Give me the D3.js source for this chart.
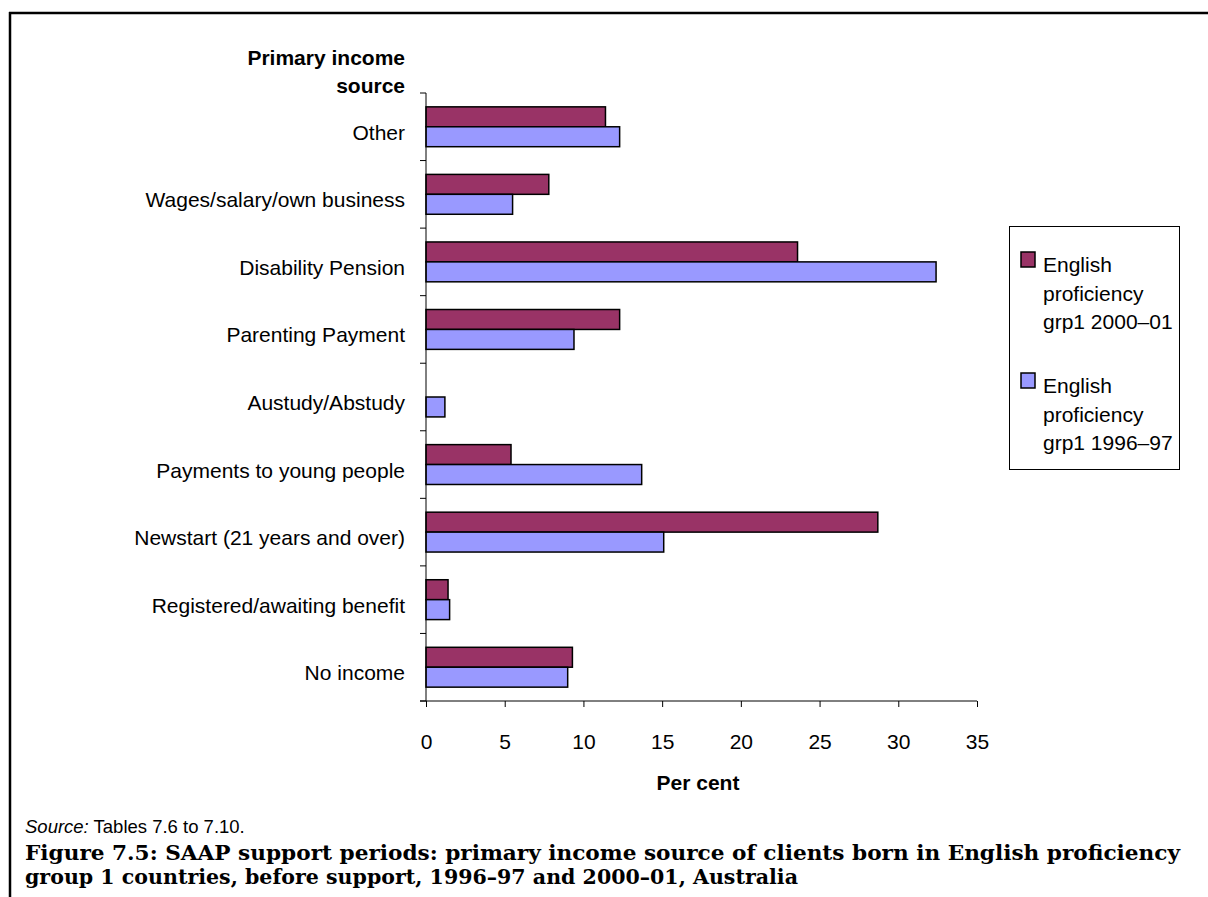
<!DOCTYPE html>
<html>
<head>
<meta charset="utf-8">
<script src="https://cdn.jsdelivr.net/npm/d3@7"></script>
<style>
  html, body { margin: 0; padding: 0; background: #fff; }
  svg { display: block; }
  text { font-family: "Liberation Sans", Arial, sans-serif; fill: #000; }
</style>
</head>
<body>
<svg id="chart" width="1208" height="897"></svg>
<script>
const categories = [
  "Other",
  "Wages/salary/own business",
  "Disability Pension",
  "Parenting Payment",
  "Austudy/Abstudy",
  "Payments to young people",
  "Newstart (21 years and over)",
  "Registered/awaiting benefit",
  "No income"
];
const seriesNames = ["English proficiency grp1 2000\u201301", "English proficiency grp1 1996\u201397"];
const values2000 = [11.4, 7.8, 23.6, 12.3, 0, 5.4, 28.7, 1.4, 9.3];
const values1996 = [12.3, 5.5, 32.4, 9.4, 1.2, 13.7, 15.1, 1.5, 9.0];
const xTicks = [0, 5, 10, 15, 20, 25, 30, 35];
const legendLines = [["English", "proficiency", "grp1 2000\u201301"], ["English", "proficiency", "grp1 1996\u201397"]];
const colors = ["#993366", "#9999FF"];

const svg = d3.select("#chart");

// frame
svg.append("line").attr("x1", 9).attr("x2", 1208).attr("y1", 13).attr("y2", 13)
  .attr("stroke", "#000").attr("stroke-width", 2.5);
svg.append("line").attr("x1", 10).attr("x2", 10).attr("y1", 12).attr("y2", 897)
  .attr("stroke", "#000").attr("stroke-width", 2.5);

const x = d3.scaleLinear().domain([0, 35]).range([426, 977]);
const y = d3.scaleBand().domain(categories).range([93, 701]).paddingInner(0.41).paddingOuter(0.205);
const ySub = d3.scaleBand().domain([0, 1]).range([0, y.bandwidth()]);

const data = categories.map((c, i) => ({ cat: c, vals: [values2000[i], values1996[i]] }));

// bars
const g = svg.append("g");
data.forEach(d => {
  d.vals.forEach((v, s) => {
    if (v <= 0) return;
    g.append("rect")
      .attr("x", x(0))
      .attr("y", y(d.cat) + ySub(s))
      .attr("width", x(v) - x(0))
      .attr("height", ySub.bandwidth())
      .attr("fill", colors[s])
      .attr("stroke", "#000")
      .attr("stroke-width", 1.5);
  });
});

// x axis
const xAxis = d3.axisBottom(x).tickValues(xTicks).tickSize(6).tickSizeOuter(0).tickFormat(d3.format("d"));
const gx = svg.append("g").attr("transform", "translate(0,701)").call(xAxis);
gx.select(".domain").remove();
gx.selectAll(".tick line").attr("stroke", "#000");
gx.selectAll(".tick text").attr("font-size", 21).attr("y", 41).attr("dy", "0.35em")
  .style("font-family", "Liberation Sans, Arial, sans-serif").attr("fill", "#000");
svg.append("line").attr("x1", 420).attr("x2", x(35)).attr("y1", 701).attr("y2", 701)
  .attr("stroke", "#000").attr("stroke-width", 1);

// y axis line + boundary ticks
svg.append("line").attr("x1", x(0)).attr("x2", x(0)).attr("y1", 93).attr("y2", 701)
  .attr("stroke", "#000").attr("stroke-width", 1);
const step = y.step();
const bounds = d3.range(categories.length + 1).map(i => y.range()[0] + i * step);
svg.append("g").selectAll("line").data(bounds).join("line")
  .attr("x1", x(0) - 6).attr("x2", x(0)).attr("y1", d => d).attr("y2", d => d)
  .attr("stroke", "#000");

// category labels
svg.append("g").selectAll("text").data(categories).join("text")
  .attr("x", 405).attr("y", d => y(d) + y.bandwidth() / 2 + 13)
  .attr("text-anchor", "end").attr("font-size", 21).text(d => d);

// y title
svg.append("text").attr("x", 405).attr("y", 65).attr("text-anchor", "end")
  .attr("font-size", 21).attr("font-weight", "bold").text("Primary income");
svg.append("text").attr("x", 405).attr("y", 93).attr("text-anchor", "end")
  .attr("font-size", 21).attr("font-weight", "bold").text("source");

// x title
svg.append("text").attr("x", 698).attr("y", 790).attr("text-anchor", "middle")
  .attr("font-size", 21).attr("font-weight", "bold").text("Per cent");

// legend
svg.append("rect").attr("x", 1009.5).attr("y", 226.5).attr("width", 170).attr("height", 243)
  .attr("fill", "#fff").attr("stroke", "#000").attr("stroke-width", 1);
legendLines.forEach((lines, s) => {
  const top = 252 + s * 121;
  svg.append("rect").attr("x", 1021).attr("y", top).attr("width", 14).attr("height", 15)
    .attr("fill", colors[s]).attr("stroke", "#000").attr("stroke-width", 1.5);
  lines.forEach((t, k) => {
    svg.append("text").attr("x", 1043).attr("y", top + 20 + k * 28.5)
      .attr("font-size", 21).text(t);
  });
});

// source
const src = svg.append("text").attr("x", 25).attr("y", 833).attr("font-size", 18.5);
src.append("tspan").attr("font-style", "italic").text("Source:");
src.append("tspan").text(" Tables 7.6 to 7.10.");

// caption
svg.append("text").attr("x", 25).attr("y", 860)
  .attr("font-size", 20.5).attr("font-weight", "bold")
  .style("font-family", "'DejaVu Serif', serif")
  .attr("textLength", 1155).attr("lengthAdjust", "spacingAndGlyphs")
  .text("Figure 7.5: SAAP support periods: primary income source of clients born in English proficiency");
svg.append("text").attr("x", 25).attr("y", 884)
  .attr("font-size", 20.5).attr("font-weight", "bold")
  .style("font-family", "'DejaVu Serif', serif")
  .attr("textLength", 773).attr("lengthAdjust", "spacingAndGlyphs")
  .text("group 1 countries, before support, 1996\u201397 and 2000\u201301, Australia");
</script>
</body>
</html>
